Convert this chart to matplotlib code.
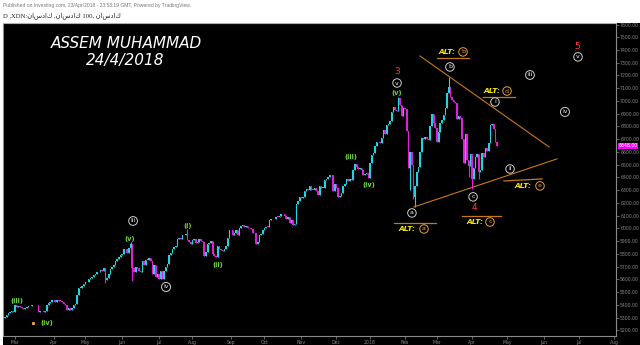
import numpy as np
import pandas as pd
import matplotlib
matplotlib.use("Agg")
import matplotlib.pyplot as plt
from matplotlib.patches import Rectangle

# trading calendar (NYSE holidays in the window)
holidays = ["2017-04-14", "2017-05-29", "2017-07-04", "2017-09-04", "2017-11-23",
            "2017-12-25", "2018-01-01", "2018-01-15", "2018-02-19", "2018-03-30",
            "2018-05-28", "2018-07-04"]
days = pd.bdate_range("2017-02-21", "2018-08-10", freq="C", holidays=holidays)

# daily closes, month by month
c_feb17 = [5305, 5320, 5335, 5340, 5352, 5345]
c_mar17 = [5398, 5385, 5390, 5380, 5372, 5368, 5375, 5382, 5390, 5388, 5400, 5396,
           5402, 5395, 5340, 5348, 5350, 5345, 5355, 5395, 5412, 5425, 5436]
c_apr17 = [5435, 5425, 5440, 5430, 5428, 5420, 5405, 5395, 5360, 5378, 5362, 5375,
           5400, 5410, 5480, 5530, 5535, 5548, 5560]
c_may17 = [5575, 5580, 5600, 5610, 5620, 5635, 5640, 5660, 5655, 5670, 5665, 5690,
           5595, 5610, 5640, 5680, 5700, 5715, 5740, 5760, 5775, 5790]
c_jun17 = [5800, 5840, 5835, 5810, 5845, 5880, 5690, 5660, 5700, 5685, 5665, 5655,
           5745, 5710, 5750, 5755, 5770, 5740, 5640, 5710, 5620, 5645]
c_jul17 = [5600, 5665, 5605, 5665, 5700, 5720, 5790, 5810, 5840, 5850, 5865, 5915,
           5925, 5915, 5945, 5950, 5955, 5905, 5890, 5880]
c_aug17 = [5905, 5915, 5885, 5895, 5915, 5900, 5895, 5785, 5815, 5880, 5885, 5900,
           5795, 5780, 5775, 5860, 5835, 5830, 5820, 5840, 5860, 5925, 5985]
c_sep17 = [5990, 5945, 5960, 5985, 5950, 6005, 6020, 6025, 6010, 6015, 6005, 6000,
           5995, 5965, 5960, 5880, 5895, 5945, 5955, 5985]
c_oct17 = [6000, 6012, 6010, 6065, 6075, 6070, 6072, 6090, 6088, 6100, 6110, 6112,
           6100, 6075, 6090, 6045, 6068, 6030, 6035, 6195, 6215, 6245]
c_nov17 = [6235, 6250, 6290, 6310, 6305, 6335, 6305, 6300, 6315, 6295, 6265, 6335,
           6315, 6320, 6380, 6385, 6405, 6415, 6420, 6290, 6345]
c_dec17 = [6320, 6245, 6255, 6280, 6330, 6350, 6385, 6375, 6385, 6380, 6455, 6505,
           6480, 6465, 6470, 6460, 6420, 6430, 6435, 6395]
c_jan18 = [6515, 6575, 6590, 6650, 6675, 6680, 6670, 6710, 6770, 6740, 6815, 6820,
           6840, 6915, 6955, 6930, 6925, 7020, 6965, 6880, 6945]
c_feb18 = [6935, 6765, 6475, 6600, 6500, 6245, 6330, 6440, 6480, 6600, 6710, 6700,
           6720, 6700, 6690, 6805, 6900, 6830, 6790]
c_mar18 = [6675, 6755, 6830, 6850, 6890, 6945, 7065, 7110, 7035, 7010, 6990, 6985,
           6860, 6880, 6865, 6700, 6510, 6740, 6540, 6490, 6580]
c_apr18 = [6390, 6470, 6560, 6585, 6440, 6460, 6590, 6560, 6630, 6605, 6670, 6810,
           6820, 6780, 6675, 6648]

closes = np.array(c_feb17 + c_mar17 + c_apr17 + c_may17 + c_jun17 + c_jul17 + c_aug17
                  + c_sep17 + c_oct17 + c_nov17 + c_dec17 + c_jan18 + c_feb18
                  + c_mar18 + c_apr18, dtype=float)
first_open = 5300
# long wicks visible on the chart (bar number -> price)
wick_low = {60: 5570, 76: 5590, 242: 6300, 244: 6230, 245: 6165, 277: 6400,
            279: 6310, 283: 6390}
wick_high = {75: 5895, 109: 5995, 235: 7030, 265: 7190}

month_labels = ["Mar", "Apr", "May", "Jun", "Jul", "Aug", "Sep", "Oct", "Nov", "Dec",
                "2018", "Feb", "Mar", "Apr", "May", "Jun", "Jul", "Aug"]
yticks = list(range(5200, 7700, 100))

# wave labels: (text, bar, price)
grey_labels = [("iii", 76.5, 6058), ("iv", 96.2, 5540), ("v", 234.2, 7141),
               ("a", 243.1, 6121), ("b", 265.8, 7267), ("c", 279.6, 6247),
               ("i", 292.7, 6992), ("ii", 301.7, 6466), ("iii", 313.6, 7204),
               ("iv", 334.5, 6914), ("v", 342.3, 7346)]
green_labels = [("(iii)", 7.2, 5433), ("(iv)", 25, 5257), ("(v)", 74.7, 5917),
                ("(i)", 109.3, 6019), ("(ii)", 127.2, 5713), ("(iii)", 206.7, 6560),
                ("(iv)", 217.4, 6341), ("(v)", 234.2, 7063)]
red_labels = [("3", 234.2, 7228), ("4", 280.2, 6160), ("5", 341.7, 7424)]
alt_labels = [("a", 240.1, 250.3, 5995), ("b", 264.0, 273.6, 7385),
              ("c", 280.8, 289.7, 6050), ("d", 290.9, 299.9, 7078),
              ("e", 309.4, 319.6, 6333)]
alt_lines = [(232.4, 257.5, 6043, 6043), (258.0, 277.2, 7338, 7338),
             (273.0, 296.3, 6097, 6097), (285.5, 304.7, 7031, 7031),
             (298.0, 320.8, 6372, 6388)]
trend_lines = [(247.9, 325.0, 7353, 6639), (244.3, 329.7, 6168, 6545)]

CYAN = "#22d3e0"
MAGENTA = "#e020d8"
ORANGE = "#c8781a"
GREY = "#8a8a8a"

fig = plt.figure(figsize=(6.4, 3.45), dpi=100, facecolor="white")
fig.patches.append(Rectangle((3 / 640, 0), 637 / 640, 322 / 345, transform=fig.transFigure,
                             facecolor="black", edgecolor="none", zorder=-5))
ax = fig.add_axes([3 / 640, 9 / 345, 613 / 640, 313 / 345], facecolor="black")
ax.set_zorder(2)

x = np.arange(len(closes))
opens = np.concatenate([[first_open], closes[:-1]])
highs = np.maximum(opens, closes)
lows = np.minimum(opens, closes)
for k, v in wick_low.items():
    lows[k] = v
for k, v in wick_high.items():
    highs[k] = v
colors = np.where(closes >= opens, CYAN, MAGENTA)
ax.vlines(x, lows, highs, colors=colors, lw=0.8)
ax.bar(x, np.maximum(np.abs(closes - opens), 6), bottom=np.minimum(opens, closes),
       width=0.9, color=colors, linewidth=0)

# trend lines and label underlines
for x0, x1, y0, y1 in trend_lines:
    ax.plot([x0, x1], [y0, y1], color=ORANGE, lw=0.8)
for x0, x1, y0, y1 in alt_lines:
    ax.plot([x0, x1], [y0, y1], color=ORANGE, lw=0.9)

for t, xi, yi in grey_labels:
    ax.text(xi, yi, t, color="#f0f0f0", fontsize=4.5, ha="center", va="center",
            bbox=dict(boxstyle="circle,pad=0.28", fc="black", ec="#cfcfcf", lw=0.7))
for t, xi, yi in green_labels:
    ax.text(xi, yi, t, color="#6cd83a", fontsize=4.8, fontweight="bold",
            ha="center", va="center")
for t, xi, yi in red_labels:
    ax.text(xi, yi, t, color="#ff3b3b", fontsize=6.5, ha="center", va="center")
for t, xa, xc, yi in alt_labels:
    ax.text(xa, yi, "ALT:", color="#f5e50a", fontsize=5.4, fontweight="bold",
            fontstyle="italic", ha="center", va="center")
    ax.text(xc, yi, t, color="#e8a040", fontsize=4.5, ha="center", va="center",
            bbox=dict(boxstyle="circle,pad=0.28", fc="black", ec="#e8a040", lw=0.7))
ax.plot([16.7], [5257], marker="s", ms=1.2, color="#e8a040", lw=0)

ax.set_xlim(-1.2, 365)
ax.set_ylim(5155, 7612)

month_start = [i for i in range(1, len(days)) if days[i].month != days[i - 1].month]
ax.set_xticks(month_start[:len(month_labels)])
ax.set_xticklabels(month_labels)
ax.set_yticks(yticks)
ax.set_yticklabels(["%.2f" % v for v in yticks])
ax.yaxis.tick_right()
ax.tick_params(axis="both", colors=GREY, labelsize=3.3, length=2, width=0.5, pad=1)
for s in ax.spines.values():
    s.set_color(GREY)
    s.set_linewidth(0.8)
ax.spines["top"].set_color("#b0b0b0")

# current price tag
ax.text(1.004, 6648, "6648.00", transform=ax.get_yaxis_transform(), fontsize=3.3,
        color="white", ha="left", va="center", clip_on=False,
        bbox=dict(boxstyle="square,pad=0.15", fc="#ff00ff", ec="none"))

fig.text(126 / 640, 1 - 43 / 345, "ASSEM MUHAMMAD", color="white", fontsize=11,
         fontstyle="italic", ha="center", va="center")
fig.text(125 / 640, 1 - 60 / 345, "24/4/2018", color="white", fontsize=11,
         fontstyle="italic", ha="center", va="center")
fig.text(3 / 640, 1 - 5 / 345,
         "Published on Investing.com, 23/Apr/2018 - 23:53:19 GMT, Powered by TradingView.",
         color="#777777", fontsize=3.6, family=["Liberation Sans", "DejaVu Sans"],
         ha="left", va="center")
fig.text(3 / 640, 1 - 16 / 345, "D ,XDN:ناسداك ,ناسداك 100, ناسداك", color="#222222",
         fontsize=4.8, family=["Liberation Serif", "DejaVu Sans"], ha="left", va="center")

fig.savefig("out.png", dpi=100, facecolor="white")
